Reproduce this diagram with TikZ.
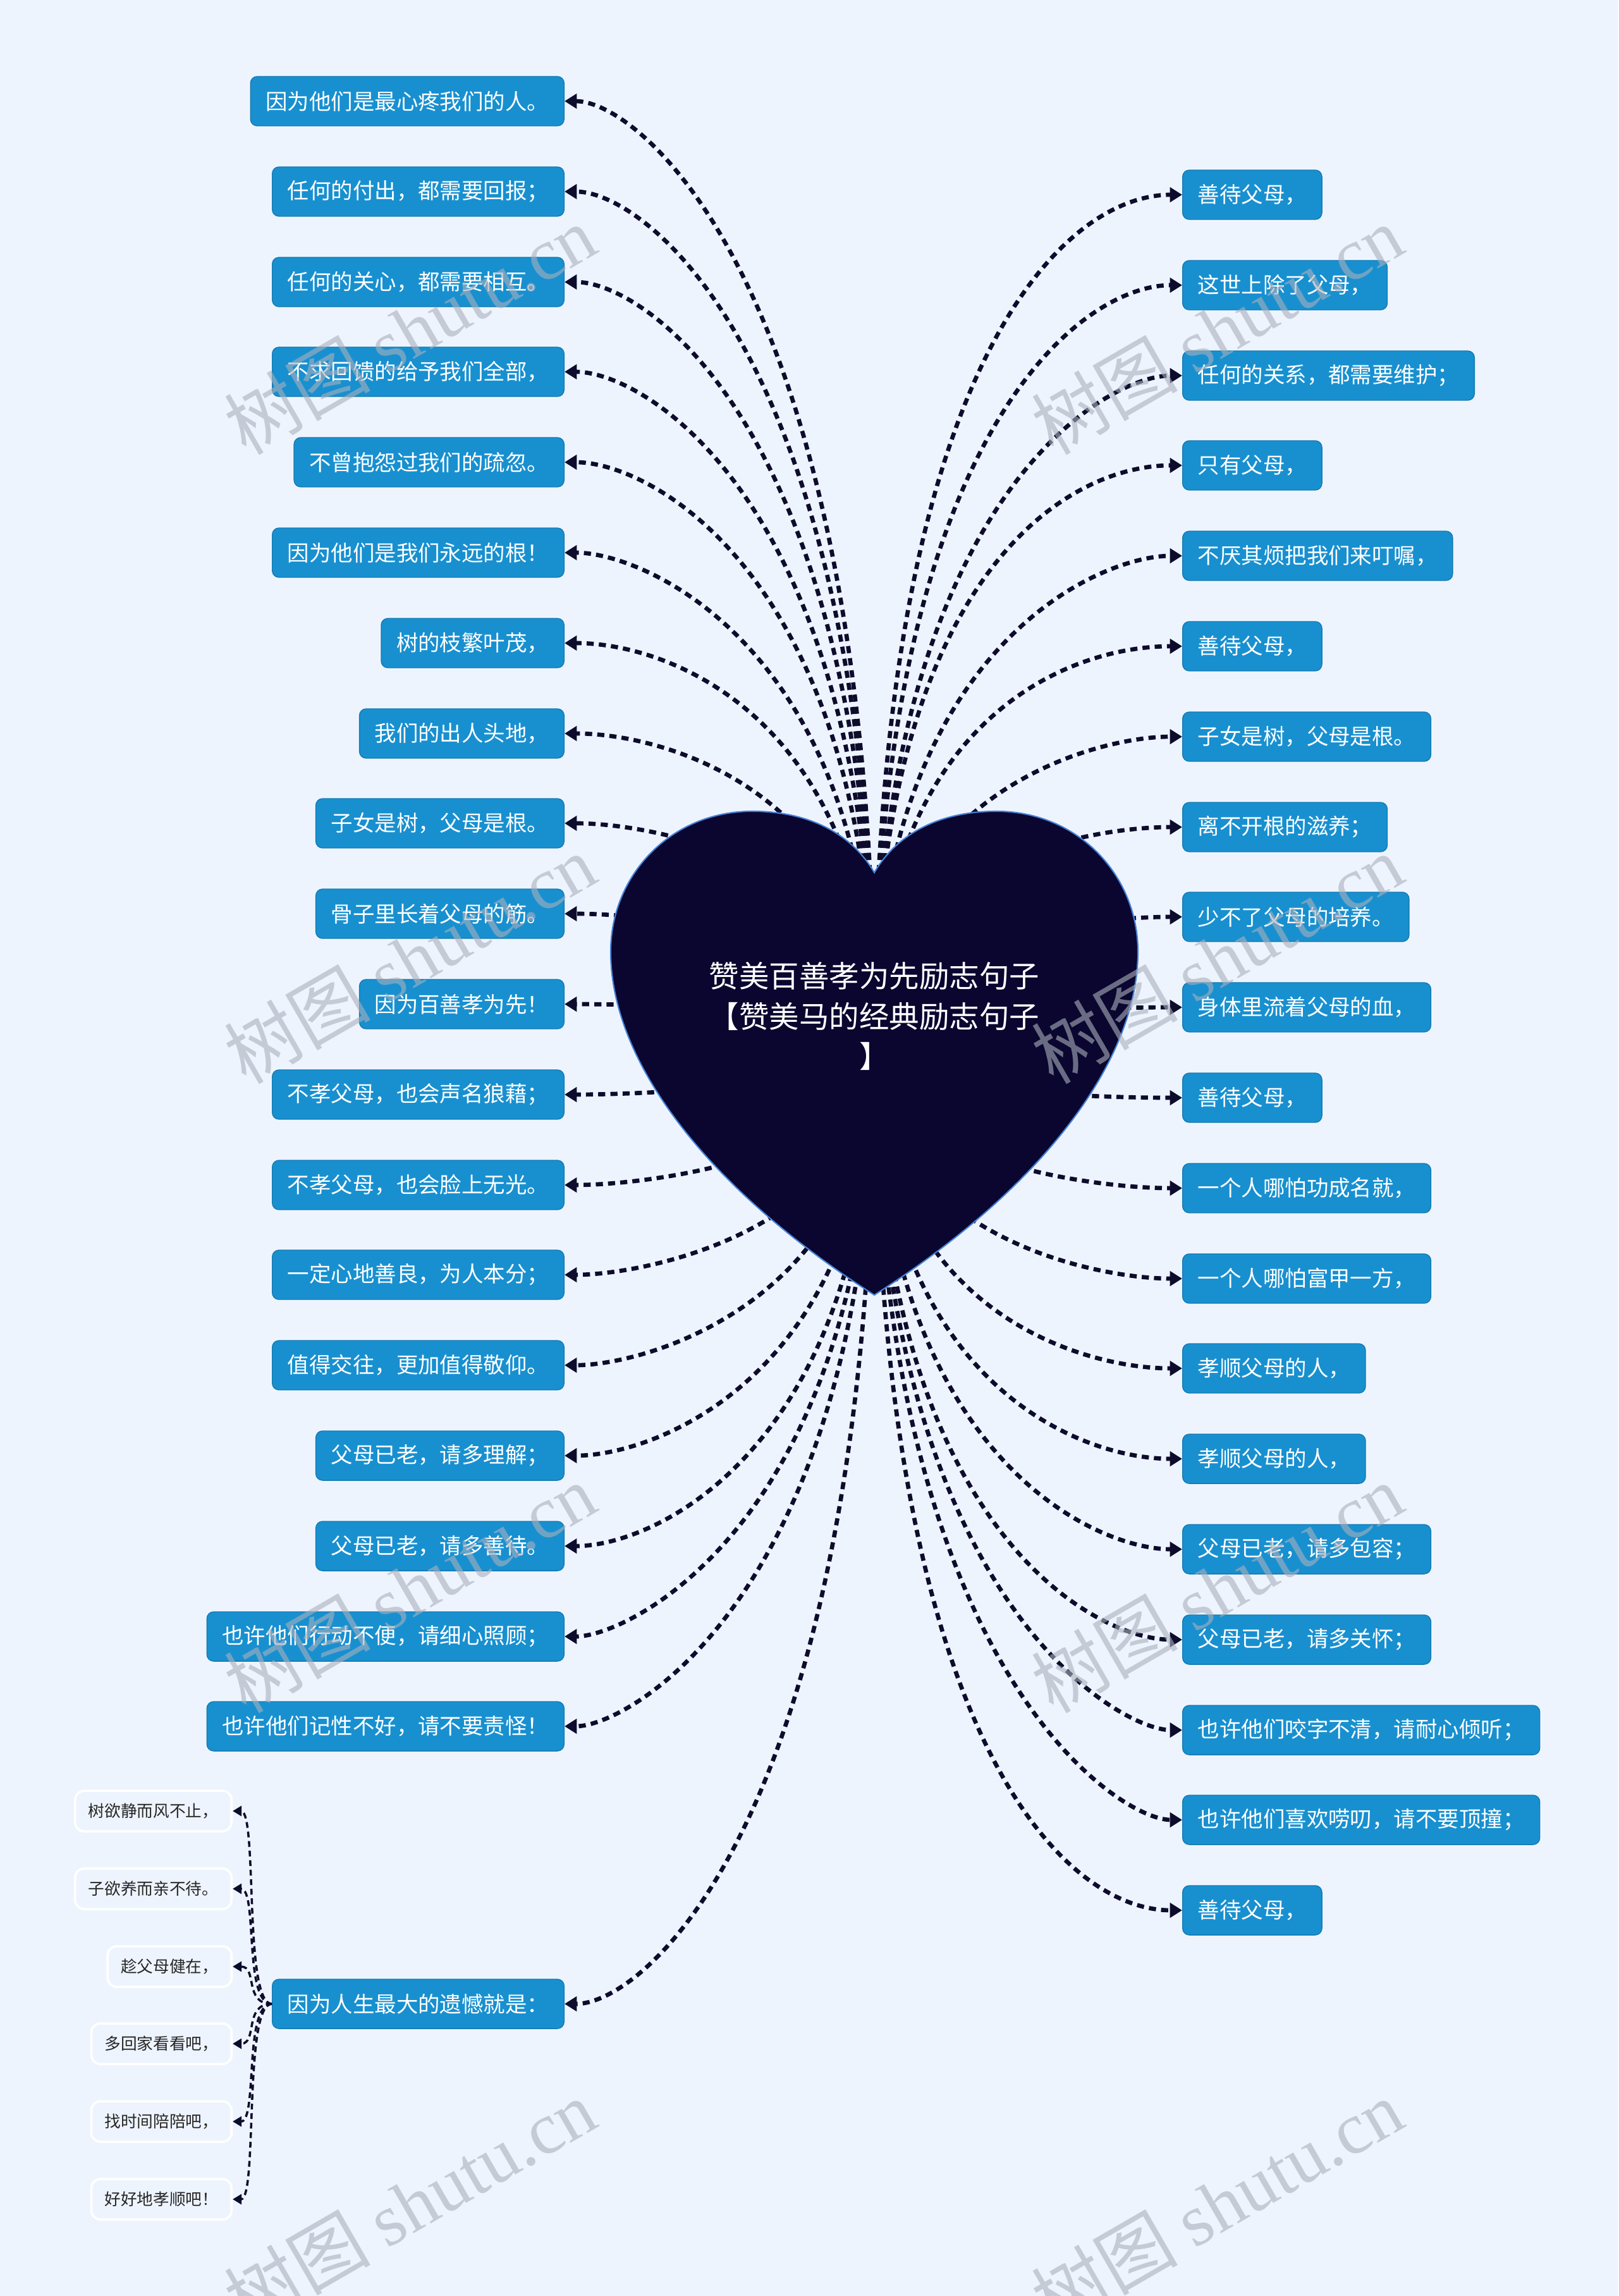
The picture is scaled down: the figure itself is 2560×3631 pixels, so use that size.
\documentclass[tikz,border=0pt]{standalone}
\usepackage{fontspec}
\setmainfont{Noto Sans CJK SC}
\newfontfamily\wmfont{Liberation Serif}
\usepackage{tikz}
\usetikzlibrary{arrows.meta,calc}
\usepackage{xcolor}
\definecolor{pagebg}{RGB}{238,244,254}
\definecolor{leafblue}{RGB}{24,144,208}
\definecolor{heartnavy}{RGB}{10,6,48}
\definecolor{heartrim}{RGB}{70,130,215}
\definecolor{linknavy}{RGB}{14,12,44}
\definecolor{wmgray}{RGB}{170,176,188}

\begin{document}
\begin{tikzpicture}[x=0.01cm, y=-0.01cm,
    leaf/.style={rectangle, fill=leafblue, draw=leafblue!85!black, line width=0.4pt, rounded corners=3pt,
                 minimum height=0.78cm, inner xsep=0.24cm, text=white,
                 font=\fontsize{9.8pt}{12pt}\selectfont},
    lleaf/.style={leaf, anchor=east},
    rleaf/.style={leaf, anchor=west},
    subleaf/.style={rectangle, fill=pagebg, draw=white, line width=1pt, rounded corners=4pt,
                 minimum height=0.64cm, inner xsep=0.21cm, anchor=east, text=black!85,
                 font=\fontsize{7.3pt}{9pt}\selectfont},
    link/.style={-{Triangle[length=5.5pt,width=6.5pt]}, line width=1.9pt, dash pattern=on 3.2pt off 2.3pt, linknavy,
                 to path={.. controls ($(\tikztostart)!0.8!(\tikztostart|-\tikztotarget)$)
                          and ($(\tikztotarget)!0.5!(\tikztostart|-\tikztotarget)$) .. (\tikztotarget)}},
    sublink/.style={-{Triangle[length=4pt,width=4.5pt]}, line width=1pt, dash pattern=on 2.6pt off 1.7pt, linknavy},
    wm/.style={text=wmgray, opacity=0.6, rotate=30, font=\fontsize{33pt}{38pt}\selectfont}
]
    \useasboundingbox (0,0) rectangle (2560,3631);
    \fill[pagebg] (0,0) rectangle (2560,3631);

    % left column
    \node[lleaf] (l1) at (893,160) {因为他们是最心疼我们的人。};
    \node[lleaf] (l2) at (893,303) {任何的付出，都需要回报；};
    \node[lleaf] (l3) at (893,446) {任何的关心，都需要相互。};
    \node[lleaf] (l4) at (893,588) {不求回馈的给予我们全部，};
    \node[lleaf] (l5) at (893,731) {不曾抱怨过我们的疏忽。};
    \node[lleaf] (l6) at (893,874) {因为他们是我们永远的根！};
    \node[lleaf] (l7) at (893,1017) {树的枝繁叶茂，};
    \node[lleaf] (l8) at (893,1160) {我们的出人头地，};
    \node[lleaf] (l9) at (893,1302) {子女是树，父母是根。};
    \node[lleaf] (l10) at (893,1445) {骨子里长着父母的筋。};
    \node[lleaf] (l11) at (893,1588) {因为百善孝为先！};
    \node[lleaf] (l12) at (893,1731) {不孝父母，也会声名狼藉；};
    \node[lleaf] (l13) at (893,1874) {不孝父母，也会脸上无光。};
    \node[lleaf] (l14) at (893,2016) {一定心地善良，为人本分；};
    \node[lleaf] (l15) at (893,2159) {值得交往，更加值得敬仰。};
    \node[lleaf] (l16) at (893,2302) {父母已老，请多理解；};
    \node[lleaf] (l17) at (893,2445) {父母已老，请多善待。};
    \node[lleaf] (l18) at (893,2588) {也许他们行动不便，请细心照顾；};
    \node[lleaf] (l19) at (893,2730) {也许他们记性不好，请不要责怪！};
    \node[lleaf] (l20) at (893,3169) {因为人生最大的遗憾就是：};

    % right column
    \node[rleaf] (r1) at (1870,308) {善待父母，};
    \node[rleaf] (r2) at (1870,451) {这世上除了父母，};
    \node[rleaf] (r3) at (1870,594) {任何的关系，都需要维护；};
    \node[rleaf] (r4) at (1870,736) {只有父母，};
    \node[rleaf] (r5) at (1870,879) {不厌其烦把我们来叮嘱，};
    \node[rleaf] (r6) at (1870,1022) {善待父母，};
    \node[rleaf] (r7) at (1870,1165) {子女是树，父母是根。};
    \node[rleaf] (r8) at (1870,1308) {离不开根的滋养；};
    \node[rleaf] (r9) at (1870,1450) {少不了父母的培养。};
    \node[rleaf] (r10) at (1870,1593) {身体里流着父母的血，};
    \node[rleaf] (r11) at (1870,1736) {善待父母，};
    \node[rleaf] (r12) at (1870,1879) {一个人哪怕功成名就，};
    \node[rleaf] (r13) at (1870,2022) {一个人哪怕富甲一方，};
    \node[rleaf] (r14) at (1870,2164) {孝顺父母的人，};
    \node[rleaf] (r15) at (1870,2307) {孝顺父母的人，};
    \node[rleaf] (r16) at (1870,2450) {父母已老，请多包容；};
    \node[rleaf] (r17) at (1870,2593) {父母已老，请多关怀；};
    \node[rleaf] (r18) at (1870,2736) {也许他们咬字不清，请耐心倾听；};
    \node[rleaf] (r19) at (1870,2878) {也许他们喜欢唠叨，请不要顶撞；};
    \node[rleaf] (r20) at (1870,3021) {善待父母，};

    % sub-branch of l20
    \node[subleaf] (s1) at (368,2864) {树欲静而风不止，};
    \node[subleaf] (s2) at (368,2987) {子欲养而亲不待。};
    \node[subleaf] (s3) at (368,3110) {趁父母健在，};
    \node[subleaf] (s4) at (368,3232) {多回家看看吧，};
    \node[subleaf] (s5) at (368,3355) {找时间陪陪吧，};
    \node[subleaf] (s6) at (368,3478) {好好地孝顺吧！};

    % links, the heart covers their start
    \coordinate (hc) at (1383,1650);
    \draw[link] (hc) to (l1);
    \draw[link] (hc) to (l2);
    \draw[link] (hc) to (l3);
    \draw[link] (hc) to (l4);
    \draw[link] (hc) to (l5);
    \draw[link] (hc) to (l6);
    \draw[link] (hc) to (l7);
    \draw[link] (hc) to (l8);
    \draw[link] (hc) to (l9);
    \draw[link] (hc) to (l10);
    \draw[link] (hc) to (l11);
    \draw[link] (hc) to (l12);
    \draw[link] (hc) to (l13);
    \draw[link] (hc) to (l14);
    \draw[link] (hc) to (l15);
    \draw[link] (hc) to (l16);
    \draw[link] (hc) to (l17);
    \draw[link] (hc) to (l18);
    \draw[link] (hc) to (l19);
    \draw[link] (hc) to (l20);
    \draw[link] (hc) to (r1);
    \draw[link] (hc) to (r2);
    \draw[link] (hc) to (r3);
    \draw[link] (hc) to (r4);
    \draw[link] (hc) to (r5);
    \draw[link] (hc) to (r6);
    \draw[link] (hc) to (r7);
    \draw[link] (hc) to (r8);
    \draw[link] (hc) to (r9);
    \draw[link] (hc) to (r10);
    \draw[link] (hc) to (r11);
    \draw[link] (hc) to (r12);
    \draw[link] (hc) to (r13);
    \draw[link] (hc) to (r14);
    \draw[link] (hc) to (r15);
    \draw[link] (hc) to (r16);
    \draw[link] (hc) to (r17);
    \draw[link] (hc) to (r18);
    \draw[link] (hc) to (r19);
    \draw[link] (hc) to (r20);

    \draw[sublink] (l20.west) .. controls +(-45,0) and +(40,0) .. (s1.east);
    \draw[sublink] (l20.west) .. controls +(-45,0) and +(40,0) .. (s2.east);
    \draw[sublink] (l20.west) .. controls +(-45,0) and +(40,0) .. (s3.east);
    \draw[sublink] (l20.west) .. controls +(-45,0) and +(40,0) .. (s4.east);
    \draw[sublink] (l20.west) .. controls +(-45,0) and +(40,0) .. (s5.east);
    \draw[sublink] (l20.west) .. controls +(-45,0) and +(40,0) .. (s6.east);

    % heart
    \filldraw[fill=heartnavy, draw=heartrim, line width=0.6pt]
        (1383,1380) .. controls (1345,1315) and (1275,1283) .. (1190,1283)
        .. controls (1060,1283) and (966,1385) .. (966,1505)
        .. controls (966,1680) and (1120,1880) .. (1383,2048)
        .. controls (1646,1880) and (1800,1680) .. (1800,1505)
        .. controls (1800,1385) and (1706,1283) .. (1576,1283)
        .. controls (1491,1283) and (1421,1315) .. (1383,1380) -- cycle;
    \node[text=white, align=center, font=\fontsize{13.5pt}{18pt}\selectfont] (title) at (1383,1607)
        {赞美百善孝为先励志句子\\【赞美马的经典励志句子\\】};

    % watermarks
    \node[wm] (wm1) at (648,521) {树图 {\wmfont shutu.cn}};
    \node[wm] (wm2) at (1925,521) {树图 {\wmfont shutu.cn}};
    \node[wm] (wm3) at (648,1516) {树图 {\wmfont shutu.cn}};
    \node[wm] (wm4) at (1925,1516) {树图 {\wmfont shutu.cn}};
    \node[wm] (wm5) at (648,2511) {树图 {\wmfont shutu.cn}};
    \node[wm] (wm6) at (1925,2511) {树图 {\wmfont shutu.cn}};
    \node[wm] (wm7) at (648,3485) {树图 {\wmfont shutu.cn}};
    \node[wm] (wm8) at (1925,3485) {树图 {\wmfont shutu.cn}};
\end{tikzpicture}
\end{document}
